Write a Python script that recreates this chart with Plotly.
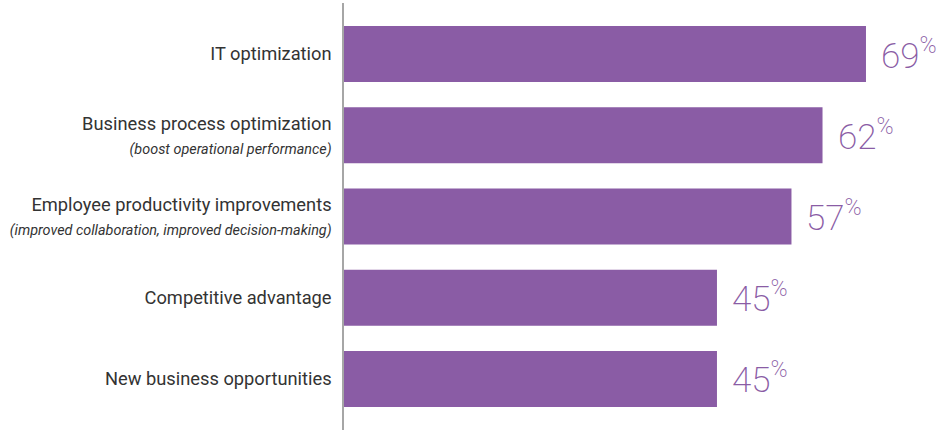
import plotly.graph_objects as go

categories = [
    "IT optimization",
    "Business process optimization",
    "Employee productivity improvements",
    "Competitive advantage",
    "New business opportunities",
]
subtitles = [
    "",
    "(boost operational performance)",
    "(improved collaboration, improved decision-making)",
    "",
    "",
]
values = [69, 62, 57, 45, 45]

BASE = -15.07
BAR_COLOR = "#8a5ca5"

ticktext = []
for c, s in zip(categories, subtitles):
    if s:
        ticktext.append(f"{c}<br><span style='font-size:14.4px'><i>{s}</i></span>")
    else:
        ticktext.append(c)

fig = go.Figure()
fig.add_trace(go.Bar(
    y=categories,
    x=[v - BASE for v in values],
    base=BASE,
    orientation="h",
    width=0.69,
    marker=dict(color=BAR_COLOR, line=dict(width=0)),
    hoverinfo="skip",
))

for c, v in zip(categories, values):
    fig.add_annotation(
        x=v, y=c, xref="x", yref="y",
        text=f"{v}<sup><span style='font-size:23px'>%</span></sup>",
        showarrow=False, xanchor="left", yanchor="middle", xshift=13,
        font=dict(family="Roboto, sans-serif", size=35,
                  color=BAR_COLOR, weight=200),
    )

fig.update_layout(
    width=938, height=430,
    margin=dict(l=344, r=0, t=3, b=0),
    paper_bgcolor="white", plot_bgcolor="white",
    showlegend=False,
    xaxis=dict(range=[BASE, 80.6], visible=False, fixedrange=True),
    yaxis=dict(
        range=[4.628, -0.628],
        tickmode="array", tickvals=categories, ticktext=ticktext,
        showline=True, linecolor="#a6a6a6", linewidth=1.5,
        showgrid=False, zeroline=False, ticks="",
        ticklabelstandoff=7, fixedrange=True,
        tickfont=dict(family="Roboto, sans-serif", size=18.3, color="#333333"),
    ),
)

fig.write_html("out.html", config={"displayModeBar": False},
               post_script="document.body.style.margin='0';")
